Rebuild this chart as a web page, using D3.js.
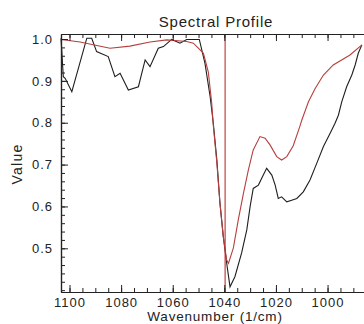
<!DOCTYPE html>
<html>
<head>
<meta charset="utf-8">
<script src="https://cdn.jsdelivr.net/npm/d3@7"></script>
<style>
  html, body { margin: 0; padding: 0; background: #fff; overflow: hidden; }
  svg { display: block; }
  text { font-family: "Liberation Sans", Arial, Helvetica, sans-serif; fill: #222; }
</style>
</head>
<body>
<svg id="chart" width="364" height="324"></svg>
<script>
// Measured spectrum (black) and model spectrum (red): wavenumber [1/cm], value
const measuredWavenumber = [1103.3, 1102.4, 1101.7, 1099.1, 1093.3, 1091.4, 1089.5, 1085.0, 1082.4, 1080.4,
  1077.2, 1073.3, 1070.7, 1068.8, 1065.6, 1063.6, 1060.4, 1057.2, 1054.6, 1049.7,
  1047.5, 1045.5, 1044.3, 1042.9, 1041.7, 1040.4, 1039.1, 1037.8, 1035.9, 1033.3,
  1031.3, 1030.0, 1028.8, 1026.8, 1024.9, 1023.6, 1021.6, 1020.3, 1019.1, 1017.8,
  1015.8, 1013.9, 1011.9, 1009.4, 1006.8, 1004.2, 1001.6, 999.0, 997.1, 995.8,
  994.5, 992.6, 990.6, 989.3, 988.1, 986.7];
const measuredValue = [1.002, 0.910, 0.906, 0.874, 1.002, 1.002, 0.970, 0.958, 0.910, 0.918,
  0.878, 0.886, 0.950, 0.934, 0.978, 0.982, 0.999, 0.990, 0.999, 0.999,
  0.942, 0.862, 0.800, 0.711, 0.608, 0.528, 0.465, 0.408, 0.432, 0.489,
  0.544, 0.600, 0.643, 0.651, 0.675, 0.691, 0.675, 0.651, 0.619, 0.623,
  0.611, 0.615, 0.619, 0.635, 0.663, 0.703, 0.743, 0.775, 0.799, 0.818,
  0.850, 0.886, 0.914, 0.938, 0.966, 0.986];

const modelWavenumber = [1103.3, 1095.9, 1084.3, 1076.6, 1068.8, 1062.3, 1054.6, 1052.0, 1049.4, 1048.1,
  1046.2, 1044.9, 1044.3, 1042.9, 1041.7, 1040.4, 1039.1, 1038.4, 1036.5, 1034.6,
  1032.6, 1030.7, 1028.8, 1026.2, 1024.2, 1022.3, 1019.7, 1017.8, 1015.8, 1013.3,
  1010.7, 1010.0, 1007.4, 1004.8, 1001.6, 997.8, 991.3, 986.7];
const modelValue = [0.999, 0.993, 0.978, 0.983, 0.993, 0.998, 0.994, 0.990, 0.974, 0.966,
  0.921, 0.847, 0.795, 0.704, 0.608, 0.528, 0.472, 0.464, 0.501, 0.568,
  0.631, 0.687, 0.735, 0.767, 0.763, 0.747, 0.719, 0.711, 0.719, 0.745,
  0.792, 0.806, 0.850, 0.882, 0.914, 0.938, 0.962, 0.986];

// Selected wavenumber marker
const markerWavenumber = [1039.7];

// Axis ticks
const xMajorTicks = [1100, 1080, 1060, 1040, 1020, 1000];
const xMinorTicks = d3.range(1100, 985, -5);
const yMajorTicks = [0.5, 0.6, 0.7, 0.8, 0.9, 1.0];
const yMinorTicks = d3.range(0.40, 1.001, 0.02);

const plotLeft = 61, plotRight = 366, plotTop = 34, plotBottom = 292;
const svg = d3.select("#chart");

const x = d3.scaleLinear().domain([1103.3, 985.1]).range([plotLeft, plotRight]);
const y = d3.scaleLinear().domain([0.3956, 1.012]).range([plotBottom, plotTop]);

// Curves
const line = d3.line().x(d => x(d[0])).y(d => y(d[1]));
const plot = svg.append("g");
plot.append("path")
  .datum(measuredWavenumber.map((w, i) => [w, measuredValue[i]]))
  .attr("d", line).attr("fill", "none").attr("stroke", "#1e1e1e").attr("stroke-width", 1.1);
plot.append("path")
  .datum(modelWavenumber.map((w, i) => [w, modelValue[i]]))
  .attr("d", line).attr("fill", "none").attr("stroke", "#b5403e").attr("stroke-width", 1.1);
plot.selectAll("line.marker").data(markerWavenumber).join("line")
  .attr("class", "marker")
  .attr("x1", d => x(d)).attr("x2", d => x(d))
  .attr("y1", plotTop).attr("y2", plotBottom)
  .attr("stroke", "#c0302e").attr("stroke-width", 1.1);

function styleAxis(g) {
  g.select(".domain").attr("stroke", "#222").attr("stroke-width", 1.2);
  g.selectAll(".tick line").attr("stroke", "#222").attr("stroke-width", 1);
  g.selectAll(".tick text")
    .style("font-size", "13px").style("letter-spacing", "1px").attr("fill", "#222");
}

// Bottom axis with inward ticks
svg.append("g").attr("transform", `translate(0,${plotBottom})`)
  .call(d3.axisBottom(x).tickValues(xMinorTicks).tickSize(-4).tickFormat("").tickSizeOuter(0))
  .call(styleAxis);
svg.append("g").attr("transform", `translate(0,${plotBottom})`)
  .call(d3.axisBottom(x).tickValues(xMajorTicks).tickSize(-7).tickSizeOuter(0).tickPadding(6).tickFormat(d3.format("d")))
  .call(styleAxis);

// Top axis
svg.append("g").attr("transform", `translate(0,${plotTop})`)
  .call(d3.axisTop(x).tickValues(xMinorTicks).tickSize(-4).tickFormat("").tickSizeOuter(0))
  .call(styleAxis);
svg.append("g").attr("transform", `translate(0,${plotTop})`)
  .call(d3.axisTop(x).tickValues(xMajorTicks).tickSize(-7).tickFormat("").tickSizeOuter(0))
  .call(styleAxis);

// Left axis
svg.append("g").attr("transform", `translate(${plotLeft},0)`)
  .call(d3.axisLeft(y).tickValues(yMinorTicks).tickSize(-4).tickFormat("").tickSizeOuter(0))
  .call(styleAxis);
svg.append("g").attr("transform", `translate(${plotLeft},0)`)
  .call(d3.axisLeft(y).tickValues(yMajorTicks).tickSize(-7).tickSizeOuter(0).tickPadding(8).tickFormat(d3.format(".1f")))
  .call(styleAxis);

// Titles
svg.append("text").attr("x", 216).attr("y", 27).attr("text-anchor", "middle")
  .style("font-size", "15px").style("letter-spacing", "0.8px").text("Spectral Profile");
svg.append("text").attr("x", 215).attr("y", 321).attr("text-anchor", "middle")
  .style("font-size", "13.5px").style("letter-spacing", "0.8px").text("Wavenumber (1/cm)");
svg.append("text").attr("transform", "translate(22,164) rotate(-90)").attr("text-anchor", "middle")
  .style("font-size", "14px").style("letter-spacing", "1.2px").text("Value");
</script>
</body>
</html>
